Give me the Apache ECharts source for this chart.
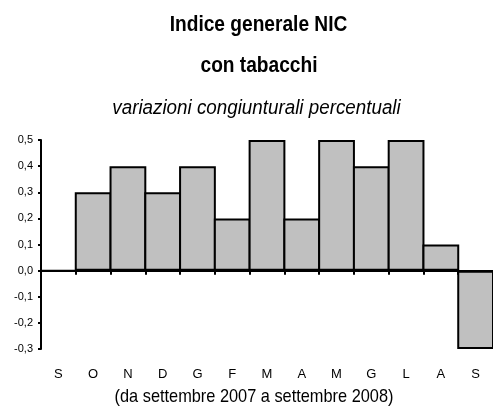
<!DOCTYPE html>
<html><head><meta charset="utf-8">
<script src="https://cdn.jsdelivr.net/npm/echarts@6/dist/echarts.min.js"></script>
<style>html,body{margin:0;padding:0;background:#fff}#c{width:493px;height:407px}</style>
</head><body><div id="c"></div>
<script>
const categories = ['S','O','N','D','G','F','M','A','M','G','L','A','S'];
const values = [0, 0.3, 0.4, 0.3, 0.4, 0.2, 0.5, 0.2, 0.5, 0.4, 0.5, 0.1, -0.3];
const yTicks = [-0.3, 0.5, 0.1];
const titleLine1 = 'Indice generale NIC';
const titleLine2 = 'con tabacchi';
const subtitle = 'variazioni congiunturali percentuali';
const caption = '(da settembre 2007 a settembre 2008)';

const sans = '"Liberation Sans", Arial, sans-serif';
const gridLeft = 41, gridRight = 0;
const bandW = (493 - gridLeft - gridRight) / categories.length;
const txt = (text, x, y, font, sx) => ({type: 'text', x: x, y: y, scaleX: sx, silent: true,
  style: {text: text, font: font, fill: '#000', align: 'center', verticalAlign: 'middle'}});
const chart = echarts.init(document.getElementById('c'), null, {renderer: 'canvas'});
chart.setOption({
  animation: false,
  backgroundColor: '#fff',
  grid: {left: gridLeft, right: gridRight, top: 140, bottom: 58, containLabel: false},
  graphic: [
    txt(titleLine1, 258.5, 25, 'bold 22px ' + sans, 0.87),
    txt(titleLine2, 259, 66, 'bold 22px ' + sans, 0.87),
    txt(subtitle, 256.5, 108, 'italic 20px ' + sans, 0.94),
    txt(caption, 254, 397, '19px ' + sans, 0.86)
  ],
  xAxis: [
    {type: 'category', data: categories, position: 'bottom',
     axisLine: {onZero: true, lineStyle: {color: '#000', width: 2}},
     axisTick: {show: true, length: 4, lineStyle: {color: '#000', width: 2}},
     axisLabel: {show: false}, splitLine: {show: false}},
    {type: 'category', data: categories, position: 'bottom',
     axisLine: {show: false}, axisTick: {show: false},
     axisLabel: {show: true, margin: 19, fontSize: 13, fontFamily: sans, color: '#000'}}
  ],
  yAxis: {type: 'value', min: yTicks[0], max: yTicks[1], interval: yTicks[2],
    axisLine: {show: true, lineStyle: {color: '#000', width: 2}},
    axisTick: {show: true, length: 3, lineStyle: {color: '#000', width: 2}},
    splitLine: {show: false},
    axisLabel: {fontSize: 11, fontFamily: sans, color: '#000', margin: 8,
      formatter: v => v.toFixed(1).replace('.', ',')}},
  series: [{type: 'bar', data: values, xAxisIndex: 0, barCategoryGap: '0%', barWidth: bandW + 2,
    itemStyle: {color: '#c0c0c0', borderColor: '#000', borderWidth: 2}}]
});
</script></body></html>
